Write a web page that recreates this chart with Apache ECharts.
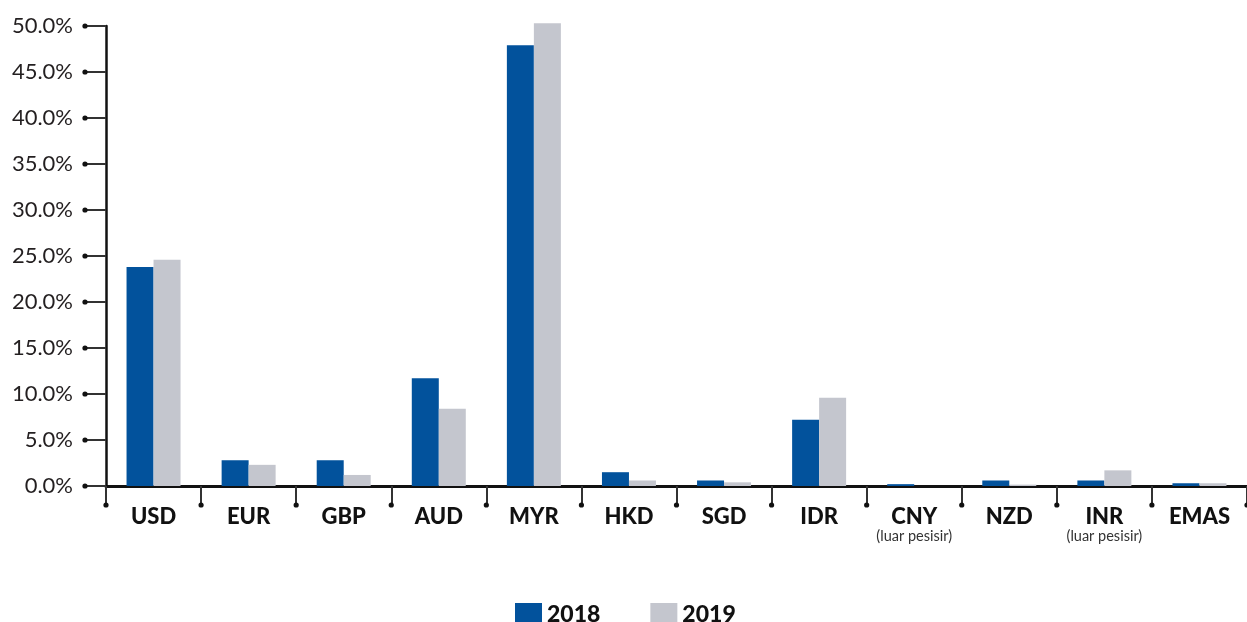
<!DOCTYPE html>
<html>
<head>
<meta charset="utf-8">
<script src="https://cdn.jsdelivr.net/npm/echarts@6/dist/echarts.min.js"></script>
<style>
  html, body { margin: 0; padding: 0; background: #fff; }
  #chart { width: 1247px; height: 622px; }
</style>
</head>
<body>
<div id="chart"></div>
<script>
// mata wang
var categories = ['USD', 'EUR', 'GBP', 'AUD', 'MYR', 'HKD', 'SGD', 'IDR', 'CNY', 'NZD', 'INR', 'EMAS'];
var subLabels = ['', '', '', '', '', '', '', '', '(luar pesisir)', '', '(luar pesisir)', ''];
var data2018 = [23.8, 2.8, 2.8, 11.7, 47.9, 1.5, 0.6, 7.2, 0.2, 0.6, 0.6, 0.3];
var data2019 = [24.6, 2.3, 1.2, 8.4, 50.3, 0.6, 0.4, 9.6, 0, 0.15, 1.7, 0.3];
var yTicks = [0, 5, 10, 15, 20, 25, 30, 35, 40, 45, 50];
var xBoundaries = [0, 1, 2, 3, 4, 5, 6, 7, 8, 9, 10, 11, 12];

var chart = echarts.init(document.getElementById('chart'), null, { renderer: 'canvas' });

// titik hitam di hujung tick paksi Y
function renderYDot(params, api) {
  var cs = params.coordSys;
  var p = api.coord([0, api.value(1)]);
  return {
    type: 'circle',
    shape: { cx: cs.x - 21, cy: p[1], r: 2.6 },
    style: { fill: '#111' }
  };
}
// titik hitam di hujung tick paksi X
function renderXDot(params, api) {
  var cs = params.coordSys;
  var bw = api.size([1, 0])[0];
  var base = api.coord([0, 0]);
  return {
    type: 'circle',
    shape: { cx: cs.x + api.value(2) * bw, cy: base[1] + 19, r: 2.6 },
    style: { fill: '#111' }
  };
}

var option = {
  animation: false,
  grid: { left: 106, right: -3, top: 26, bottom: 136 },
  legend: {
    data: ['2018', '2019'],
    left: 510,
    top: 598,
    itemWidth: 27,
    itemHeight: 24,
    itemGap: 50,
    icon: 'rect',
    textStyle: { fontFamily: 'Lato', fontWeight: 900, fontSize: 23, color: '#111' }
  },
  xAxis: {
    type: 'category',
    data: categories,
    axisLine: { lineStyle: { color: '#111', width: 3 } },
    axisTick: { show: true, length: 18, interval: 0, lineStyle: { color: '#333', width: 2 } },
    axisLabel: {
      interval: 0,
      margin: 19,
      formatter: function (v, i) {
        return '{a|' + v + '}' + (subLabels[i] ? '\n{b|' + subLabels[i] + '}' : '');
      },
      rich: {
        a: { fontFamily: 'Lato', fontWeight: 900, fontSize: 22, color: '#111', lineHeight: 23 },
        b: { fontFamily: 'Lato', fontSize: 14.5, color: '#333', lineHeight: 17 }
      }
    }
  },
  yAxis: {
    type: 'value',
    min: 0,
    max: 50,
    interval: 5,
    splitLine: { show: false },
    axisLine: { show: true, lineStyle: { color: '#111', width: 2.5 } },
    axisTick: { show: true, length: 21, lineStyle: { color: '#333', width: 2 } },
    axisLabel: {
      margin: 33,
      fontFamily: 'Lato',
      fontSize: 22,
      color: '#231f20',
      formatter: function (v) { return v.toFixed(1) + '%'; }
    }
  },
  series: [
    {
      name: '2018',
      type: 'bar',
      data: data2018,
      barWidth: 27,
      barGap: '0%',
      clip: false,
      itemStyle: { color: '#02529c' }
    },
    {
      name: '2019',
      type: 'bar',
      data: data2019,
      barWidth: 27,
      clip: false,
      itemStyle: { color: '#c4c6ce' }
    },
    {
      type: 'custom',
      renderItem: renderYDot,
      data: yTicks.map(function (v) { return [0, v]; }),
      clip: false,
      silent: true,
      z: 5
    },
    {
      type: 'custom',
      renderItem: renderXDot,
      data: xBoundaries.map(function (i) { return [0, 0, i]; }),
      clip: false,
      silent: true,
      z: 5
    }
  ]
};

chart.setOption(option);
</script>
</body>
</html>
